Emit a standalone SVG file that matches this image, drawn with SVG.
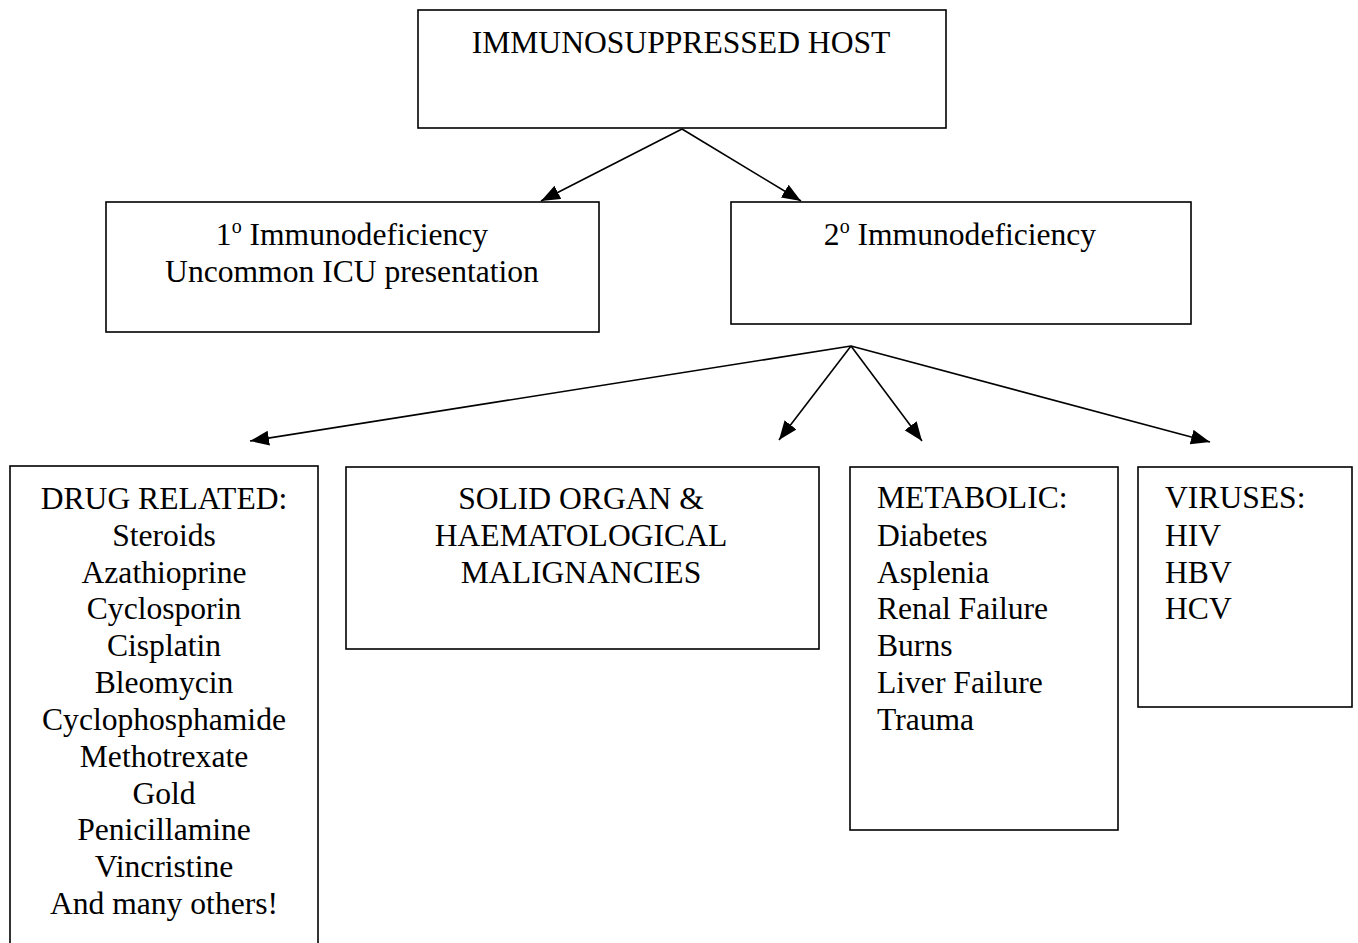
<svg xmlns="http://www.w3.org/2000/svg" width="1358" height="943" viewBox="0 0 1358 943">
<style>
.box{fill:#fff;stroke:#000;stroke-width:1.6}
.t{font-family:"Liberation Serif","Times New Roman",serif;font-size:31.6px;fill:#000}
.c{text-anchor:middle}
.sup{font-size:20px}
.conn line{stroke:#000;stroke-width:1.6;marker-end:url(#ah)}
</style>
<defs>
<marker id="ah" markerUnits="userSpaceOnUse" markerWidth="20" markerHeight="16" refX="19" refY="7.5" orient="auto">
<path d="M0,0 L19,7.5 L0,15 z" fill="#000"/>
</marker>
</defs>
<rect width="1358" height="943" fill="#fff"/>
<g id="connectors" class="conn">
<line x1="682" y1="129" x2="541" y2="201"/>
<line x1="682" y1="129" x2="801" y2="201"/>
<line x1="851" y1="346" x2="250" y2="441"/>
<line x1="851" y1="346" x2="779" y2="440"/>
<line x1="851" y1="346" x2="922" y2="441"/>
<line x1="851" y1="346" x2="1210" y2="442"/>
</g>
<g id="host">
<rect class="box" x="418" y="10" width="528" height="118"/>
<text class="t c" x="681" y="53">IMMUNOSUPPRESSED HOST</text>
</g>
<g id="primary">
<rect class="box" x="106" y="202" width="493" height="130"/>
<text class="t c" x="352" y="245">1<tspan class="sup" dy="-12">o</tspan><tspan dy="12"> Immunodeficiency</tspan></text>
<text class="t c" x="352" y="282">Uncommon ICU presentation</text>
</g>
<g id="secondary">
<rect class="box" x="731" y="202" width="460" height="122"/>
<text class="t c" x="960" y="245">2<tspan class="sup" dy="-12">o</tspan><tspan dy="12"> Immunodeficiency</tspan></text>
</g>
<g id="drug">
<rect class="box" x="10" y="466" width="308" height="490"/>
<text class="t c" x="164" y="509">DRUG RELATED:</text>
<text class="t c" x="164" y="546">Steroids</text>
<text class="t c" x="164" y="583">Azathioprine</text>
<text class="t c" x="164" y="619">Cyclosporin</text>
<text class="t c" x="164" y="656">Cisplatin</text>
<text class="t c" x="164" y="693">Bleomycin</text>
<text class="t c" x="164" y="730">Cyclophosphamide</text>
<text class="t c" x="164" y="767">Methotrexate</text>
<text class="t c" x="164" y="804">Gold</text>
<text class="t c" x="164" y="840">Penicillamine</text>
<text class="t c" x="164" y="877">Vincristine</text>
<text class="t c" x="164" y="914">And many others!</text>
</g>
<g id="solid">
<rect class="box" x="346" y="467" width="473" height="182"/>
<text class="t c" x="581" y="509">SOLID ORGAN &amp;</text>
<text class="t c" x="581" y="546">HAEMATOLOGICAL</text>
<text class="t c" x="581" y="583">MALIGNANCIES</text>
</g>
<g id="metabolic">
<rect class="box" x="850" y="467" width="268" height="363"/>
<text class="t" x="877" y="508">METABOLIC:</text>
<text class="t" x="877" y="546">Diabetes</text>
<text class="t" x="877" y="583">Asplenia</text>
<text class="t" x="877" y="619">Renal Failure</text>
<text class="t" x="877" y="656">Burns</text>
<text class="t" x="877" y="693">Liver Failure</text>
<text class="t" x="877" y="730">Trauma</text>
</g>
<g id="viruses">
<rect class="box" x="1138" y="467" width="214" height="240"/>
<text class="t" x="1165" y="508">VIRUSES:</text>
<text class="t" x="1165" y="546">HIV</text>
<text class="t" x="1165" y="583">HBV</text>
<text class="t" x="1165" y="619">HCV</text>
</g>
</svg>
